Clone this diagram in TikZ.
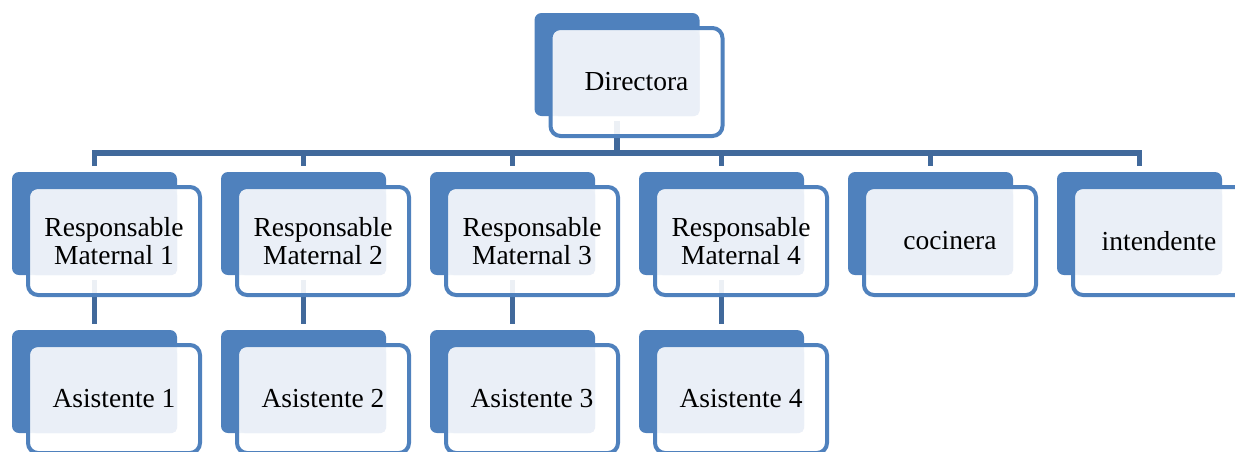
\documentclass[tikz,border=0pt]{standalone}
\usepackage{fontspec}
\setmainfont{Liberation Serif}
\usepackage{tikz}
\usetikzlibrary{calc, arrows}
\definecolor{orgblue}{HTML}{4F81BD}
\definecolor{orgline}{HTML}{41699B}
\definecolor{orgpale}{HTML}{EAEFF7}
\tikzstyle{cardback}=[fill=orgblue, rounded corners=7pt, minimum width=165pt, minimum height=103pt, inner sep=0pt, outer sep=0pt]
\tikzstyle{cardframe}=[draw=orgblue, line width=4pt, fill=white, fill opacity=0.9, rounded corners=10pt,
minimum width=172pt, minimum height=108pt, inner sep=0pt, outer sep=0pt]
\tikzstyle{cardface}=[fill=orgpale, rounded corners=5pt, minimum width=146pt, minimum height=85pt, inner sep=0pt, outer sep=0pt]
\tikzstyle{cardtext}=[align=center, font=\fontsize{27.5}{28}\selectfont, inner sep=0pt]
\tikzstyle{conn}=[draw=orgline, line width=5.5pt]
% frame, face and text on top of a blue back node
\newcommand{\orgcard}[2]{%
  \node[cardframe] (#1-w) at ($(#1-b.center)+(19.5,17.5)$) {};
  \node[cardface] (#1-l) at ($(#1-b.center)+(9.5,9)$) {};
  \node[cardtext] (#1) at (#1-w.center) {#2};
}
\begin{document}
\begin{tikzpicture}[x=1pt, y=-1pt, node distance=209pt]
  \useasboundingbox (0,0) rectangle (1235,451);
  % back blocks
  \node [cardback] (dir-b) at (617,64.5) {};
  \node [cardback] (r1-b) at (94.5,223.5) {};
  \node [cardback] (r2-b) [right of=r1-b] {};
  \node [cardback] (r3-b) [right of=r2-b] {};
  \node [cardback] (r4-b) [right of=r3-b] {};
  \node [cardback] (coc-b) [right of=r4-b] {};
  \node [cardback] (int-b) [right of=coc-b] {};
  \node [cardback] (a1-b) at (94.5,381.5) {};
  \node [cardback] (a2-b) [right of=a1-b] {};
  \node [cardback] (a3-b) [right of=a2-b] {};
  \node [cardback] (a4-b) [right of=a3-b] {};
  % connectors
  \coordinate (bus) at ($(dir-b.south)+(0,37)$);
  \draw[conn, shorten <=5pt] (dir-b.south) -- (bus);
  \draw[conn, shorten <=6pt, shorten >=6pt] (r1-b.north) -- (r1-b.north |- bus) -- (int-b.north |- bus) -- (int-b.north);
  \foreach \n in {r2,r3,r4,coc}
    \draw[conn, shorten >=6pt] (\n-b.north |- bus) -- (\n-b.north);
  \foreach \n in {1,...,4}
    \draw[conn, shorten <=5pt, shorten >=6pt] (r\n-b.south) -- (a\n-b.north);
  % cards
  \orgcard{dir}{Directora}
  \orgcard{r1}{Responsable\\Maternal 1}
  \orgcard{r2}{Responsable\\Maternal 2}
  \orgcard{r3}{Responsable\\Maternal 3}
  \orgcard{r4}{Responsable\\Maternal 4}
  \orgcard{coc}{cocinera}
  \orgcard{int}{intendente}
  \orgcard{a1}{Asistente 1}
  \orgcard{a2}{Asistente 2}
  \orgcard{a3}{Asistente 3}
  \orgcard{a4}{Asistente 4}
\end{tikzpicture}
\end{document}
